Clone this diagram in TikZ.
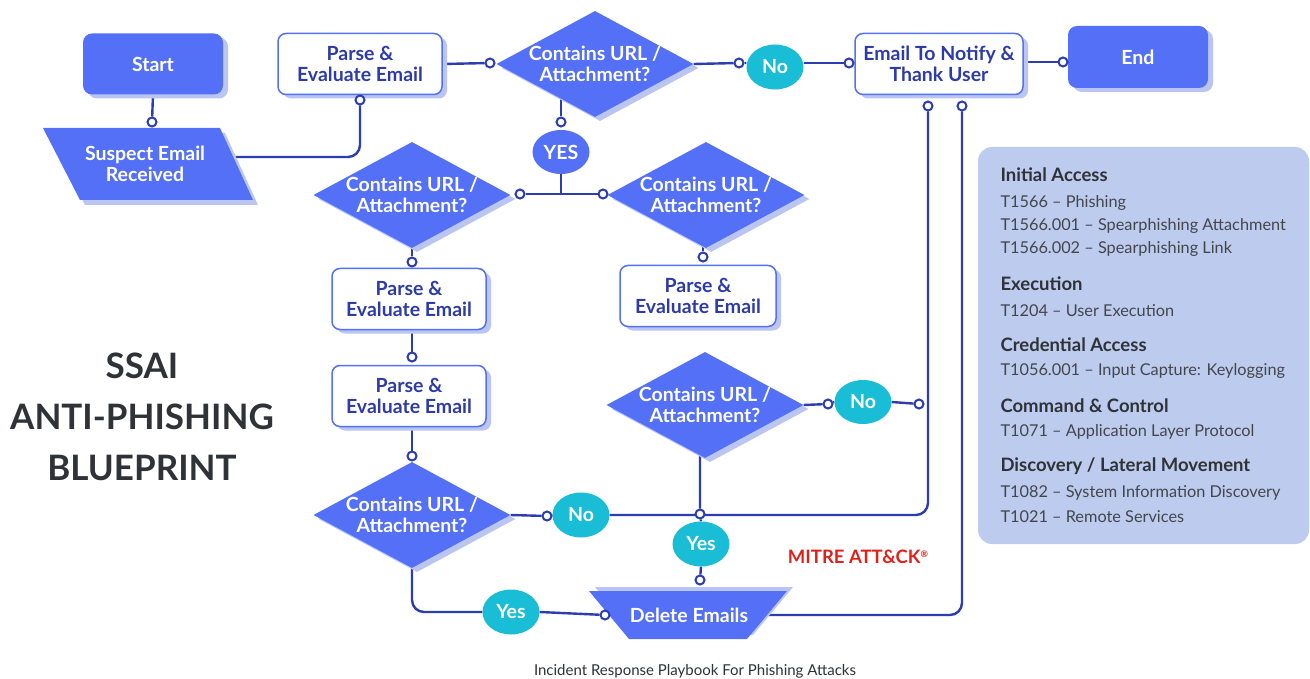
\documentclass[tikz,border=0pt]{standalone}
\usepackage{fontspec}
\setmainfont{Lato}
\usetikzlibrary{shapes.geometric,shadows}
\pgfdeclarelayer{background}
\pgfsetlayers{background,main}
\definecolor{bl}{HTML}{5470F6}
\definecolor{shc}{HTML}{BAC5F1}
\definecolor{nv}{HTML}{2C3DB0}
\definecolor{tx}{HTML}{2D3BA8}
\definecolor{cy}{HTML}{19BDD5}
\definecolor{pc}{HTML}{BCCBEE}
\definecolor{tc}{HTML}{2F3236}
\definecolor{mr}{HTML}{E0201B}
\begin{document}
\begin{tikzpicture}[x=1pt,y=-1pt,
  shad/.style={drop shadow={shadow xshift=5pt,shadow yshift=-4pt,fill=shc,opacity=1}},
  lbl/.style={font=\bfseries\fontsize{19.5}{21.5}\selectfont,align=center},
  bbox/.style={lbl,shad,rectangle,rounded corners=9pt,fill=bl,text=white,inner sep=0pt},
  wbox/.style={lbl,shad,rectangle,rounded corners=8pt,fill=white,draw=bl,line width=1.5pt,text=tx,inner sep=0pt,minimum width=156pt,minimum height=61pt},
  dia/.style={lbl,shad,diamond,aspect=1.86,fill=bl,text=white,inner sep=-5pt,minimum width=197pt,minimum height=106pt},
  oval/.style={lbl,ellipse,fill=cy,text=white,inner sep=0pt,minimum width=57pt,minimum height=45pt},
  dot/.style={circle,draw=nv,fill=white,line width=2pt,minimum size=9pt,inner sep=0pt},
  conn/.style={draw=nv,line width=2.4pt,rounded corners=12pt},
  head/.style={anchor=west,font=\bfseries\fontsize{18.5}{22}\selectfont,text=tc},
  item/.style={anchor=west,font=\fontsize{16.3}{19}\selectfont,text=tc!90}
]
\useasboundingbox (0,0) rectangle (1310,679);

% nodes
\node[bbox,minimum width=140pt,minimum height=61pt] (start) at (153,64) {Start};
\fill[shc] (48,133) -- (225,133) -- (258,205) -- (85,205) -- cycle;
\fill[bl] (43,128) -- (220,128) -- (253,200) -- (80,200) -- cycle;
\node[lbl,text=white] (susp) at (145,164) {Suspect Email\\Received};
\node[wbox,minimum width=164pt] (parse1) at (360,64) {Parse \&\\Evaluate Email};
\node[dia] (dia1) at (595,64) {Contains URL /\\Attachment?};
\node[oval] (no1) at (775,67) {No};
\node[wbox,minimum width=168pt] (notify) at (939,64) {Email To Notify \&\\Thank User};
\node[bbox,minimum width=140pt,minimum height=62pt] (end) at (1138,57) {End};
\node[oval,fill=bl,minimum height=44pt] (yes1) at (561,152) {YES};
\node[dia] (dia2) at (412,195) {Contains URL /\\Attachment?};
\node[dia] (dia3) at (706,195) {Contains URL /\\Attachment?};
\node[wbox,minimum width=154pt] (parse2) at (409,299) {Parse \&\\Evaluate Email};
\node[wbox] (parse3) at (698,296) {Parse \&\\Evaluate Email};
\node[wbox,minimum width=154pt] (parse4) at (409,396) {Parse \&\\Evaluate Email};
\node[dia] (dia4) at (705,405) {Contains URL /\\Attachment?};
\node[oval,minimum height=44pt] (no2) at (863,402) {No};
\node[dia] (dia5) at (412,515) {Contains URL /\\Attachment?};
\node[oval] (no3) at (581,515) {No};
\node[oval] (yes2) at (701,544) {Yes};
\node[oval] (yes3) at (511,612) {Yes};
\fill[shc] (595,587) -- (793,587) -- (753,635) -- (635,635) -- cycle;
\fill[bl] (589,591) -- (787,591) -- (747,639) -- (629,639) -- cycle;
\node[lbl,text=white] (delete) at (689,615) {Delete Emails};

% dots
\node[dot] (d1) at (152,122) {};
\node[dot] (d2) at (360,100) {};
\node[dot] (d3) at (490,63) {};
\node[dot] (d4) at (739,63) {};
\node[dot] (d5) at (849,63) {};
\node[dot] (d6) at (1063,62) {};
\node[dot] (d7) at (561,122) {};
\node[dot] (d8) at (520,194) {};
\node[dot] (d9) at (603,194) {};
\node[dot] (d10) at (412,262) {};
\node[dot] (d11) at (703,257) {};
\node[dot] (d12) at (412,357) {};
\node[dot] (d13) at (412,456) {};
\node[dot] (d14) at (547,516) {};
\node[dot] (d15) at (928,106) {};
\node[dot] (d16) at (700,514) {};
\node[dot] (d17) at (700,580) {};
\node[dot] (d18) at (828,404) {};
\node[dot] (d19) at (919,404) {};
\node[dot] (d20) at (605,615) {};
\node[dot] (d21) at (962,106) {};

% connectors
\begin{pgfonlayer}{background}
\fill[white] (0,0) rectangle (1310,679);
\draw[conn] (start.south) -- (d1);
\draw[conn] ([yshift=7pt]susp.center) -| (d2);
\draw[conn] (parse1.east) -- (d3);
\draw[conn] (dia1.east) -- (d4) -- (no1.west |- d4);
\draw[conn] (no1.east |- d5) -- (d5);
\draw[conn] (notify.east |- d6) -- (d6);
\draw[conn] (dia1.center -| d7) -- (d7);
\draw[conn] (yes1.south) -- (yes1.south |- d8);
\draw[conn] (d8) -- (d9);
\draw[conn] (dia2.south) -- (d10);
\draw[conn] (dia3.center -| d11) -- (d11);
\draw[conn] (parse2.south -| d12) -- (d12);
\draw[conn] (parse4.south -| d13) -- (d13);
\draw[conn] (dia5.east) -- (d14) -- (no3.west);
\draw[conn] (no3.east) -| (d15);
\draw[conn] (dia4.center -| d16) -- (d16) -- (yes2.north);
\draw[conn] (yes2.south) -- (d17);
\draw[conn] (dia4.east) -- (d18) -- (no2.west);
\draw[conn] (no2.east) -- (d19);
\draw[conn] (dia5.south) |- (yes3.west);
\draw[conn] (yes3.east) -- (d20);
\draw[conn] (delete.center) -| (d21);
\end{pgfonlayer}

% title
\node[font=\bfseries\fontsize{35}{51}\selectfont,text=tc,align=center] (title) at (142,417) {SSAI\\ANTI-PHISHING\\BLUEPRINT};
\node[font=\bfseries\fontsize{18.5}{20}\selectfont,text=mr] (mitre) at (858,557) {MITRE ATT\&CK\raisebox{0.6ex}{\fontsize{9}{9}\selectfont ®}};
\node[font=\fontsize{15}{17}\selectfont,text=tc] (cap) at (695,671) {Incident Response Playbook For Phishing Attacks};

% MITRE panel
\node[rectangle,rounded corners=14pt,fill=pc,minimum width=331pt,minimum height=397pt,inner sep=0pt] (panel) at (1143.5,345.5) {};
\node[head] (h1) at (997,175) {Initial Access};
\node[item] (i1) at (997,203) {T1566 – Phishing};
\node[item] (i2) at (997,226) {T1566.001 – Spearphishing Attachment};
\node[item] (i3) at (997,249) {T1566.002 – Spearphishing Link};
\node[head] (h2) at (997,284) {Execution};
\node[item] (i4) at (997,311) {T1204 – User Execution};
\node[head] (h3) at (997,345) {Credential Access};
\node[item] (i5) at (997,371) {T1056.001 – Input Capture: Keylogging};
\node[head] (h4) at (997,406) {Command \& Control};
\node[item] (i6) at (997,432) {T1071 – Application Layer Protocol};
\node[head] (h5) at (997,466) {Discovery / Lateral Movement};
\node[item] (i7) at (997,493) {T1082 – System Information Discovery};
\node[item] (i8) at (997,517) {T1021 – Remote Services};
\end{tikzpicture}
\end{document}
